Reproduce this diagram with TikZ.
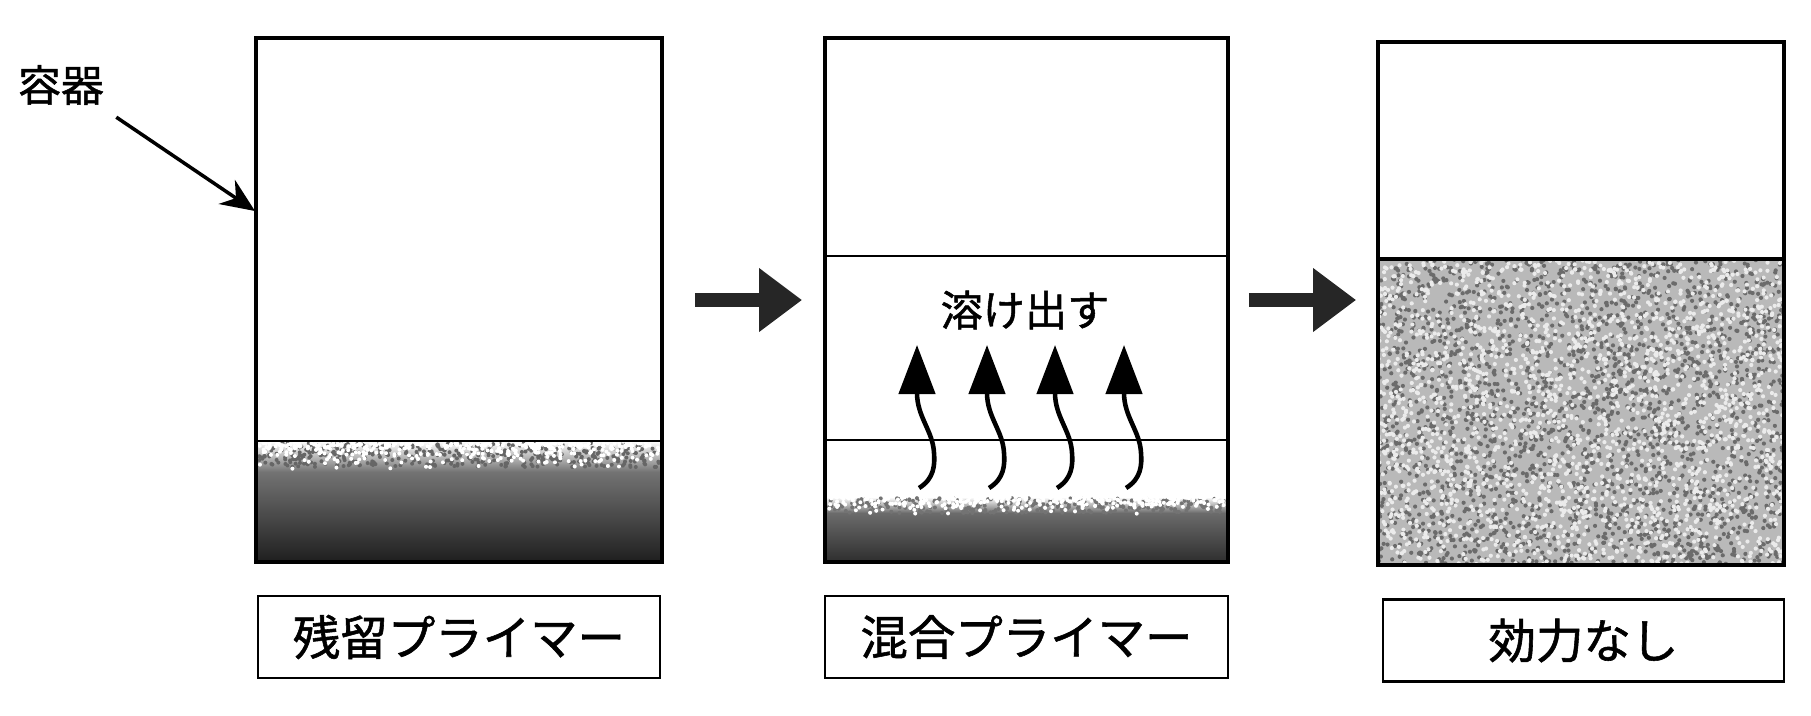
\documentclass[tikz,border=0pt]{standalone}
\usepackage{fontspec}
\newfontfamily\jp[FakeBold=1.2]{Noto Sans CJK JP}
\usetikzlibrary{arrows.meta}

\begin{document}
\begin{tikzpicture}[
  vessel/.style={draw, line width=1.1pt, minimum width=4.06cm, minimum height=5.24cm, inner sep=0pt},
  tag/.style={draw, line width=0.8pt, minimum width=4.02cm, minimum height=0.82cm, inner sep=0pt, font=\jp\fontsize{13.5}{16}\selectfont},
  flow/.style={line width=4pt, black!85, -{Triangle[length=4.3mm, width=6.1mm]}},
  rise/.style={line width=1.3pt, -{Triangle[length=4.9mm, width=3.6mm]}},
  pointer/.style={line width=1pt, -{Stealth[length=3.4mm, width=2.9mm]}},
  ]
\useasboundingbox (0,0) rectangle (18.11,7.15);
\pgfmathsetseed{7}

% residual primer
\shade[top color=white, bottom color=black!55] (2.56,2.43) rectangle (6.62,2.74);
\shade[top color=black!55, bottom color=black!88] (2.56,1.53) rectangle (6.62,2.43);
\foreach \i in {1,...,450}
  \fill[black!60] ({4.59+2.0*rand},{2.72-0.24*rnd}) circle (0.02);
\foreach \i in {1,...,400}
  \fill[white] ({4.59+2.0*rand},{2.72-0.28*rnd*rnd}) circle (0.02);

% mixed primer
\shade[top color=white, bottom color=black!58] (8.25,2.02) rectangle (12.28,2.18);
\shade[top color=black!58, bottom color=black!82] (8.25,1.53) rectangle (12.28,2.02);
\foreach \i in {1,...,300}
  \fill[black!55] ({10.265+1.98*rand},{2.17-0.15*rnd}) circle (0.02);
\foreach \i in {1,...,300}
  \fill[white] ({10.265+1.98*rand},{2.18-0.18*rnd*rnd}) circle (0.02);

% spent primer
\begin{scope}
\clip (13.78,1.50) rectangle (17.84,4.56);
\fill[gray!55] (13.78,1.50) rectangle (17.84,4.56);
\foreach \i in {1,...,2400}
  \fill[black!58] ({15.81+2.03*rand},{3.03+1.53*rand}) circle (0.021);
\foreach \i in {1,...,2200}
  \fill[white!92!black] ({15.81+2.03*rand},{3.03+1.53*rand}) circle (0.021);
\end{scope}

% vessels
\node[vessel] (c1) at (4.59,4.15) {};
\node[vessel, minimum width=4.03cm] (c2) at (10.265,4.15) {};
\node[vessel, minimum height=5.23cm] (c3) at (15.81,4.115) {};

\draw[line width=0.8pt] (2.56,2.74) -- (6.62,2.74);
\draw[line width=0.8pt] (8.25,4.59) -- (12.28,4.59);
\draw[line width=0.8pt] (8.25,2.75) -- (12.28,2.75);
\draw[line width=1.1pt] (13.78,4.56) -- (17.84,4.56);

% rising arrows
\foreach \x in {9.17,9.87,10.55,11.24}
  \draw[rise] ({\x+0.02},2.27) .. controls ({\x+0.17},2.36) and ({\x+0.18},2.50) .. ({\x+0.17},2.62)
    .. controls ({\x+0.16},2.84) and (\x,2.98) .. (\x,3.70);
\node[font=\jp\fontsize{12}{14}\selectfont] (melt) at (10.25,4.05) {溶け出す};

% step arrows
\draw[flow, shorten <=0.31cm, shorten >=0.21cm] (c1.east) -- (c2.west);
\draw[flow, shorten <=0.19cm, shorten >=0.20cm] (c2.east) -- (c2.east -| c3.west);

% container label
\node[font=\jp\fontsize{12.2}{14}\selectfont] (yoki) at (0.61,6.30) {容器};
\coordinate (hit) at (2.55,5.04);
\draw[pointer] (yoki.south east) -- (hit);

% captions
\node[tag] (t1) at (4.59,0.78) {残留プライマー};
\node[tag, minimum width=4.03cm] (t2) at (10.265,0.78) {混合プライマー};
\node[tag, minimum width=4.01cm] (t3) at (15.835,0.745) {効力なし};
\end{tikzpicture}
\end{document}
